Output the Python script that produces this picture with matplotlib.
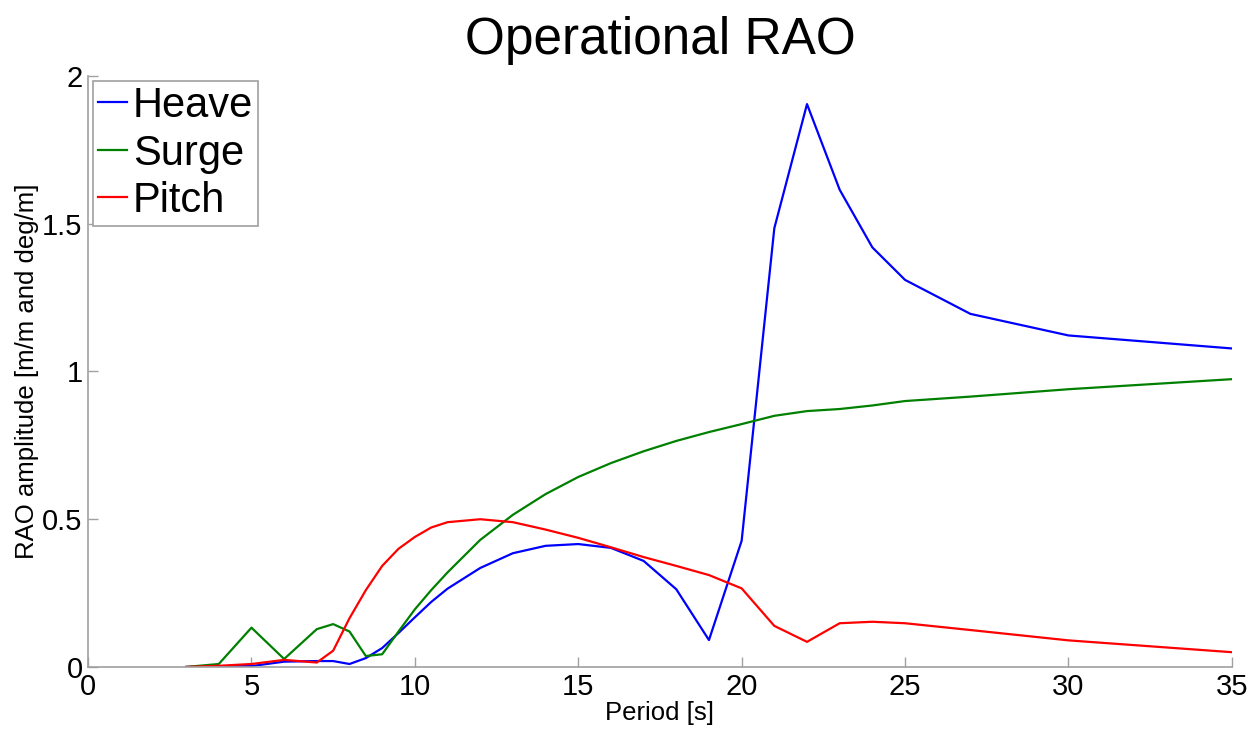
import matplotlib
matplotlib.use("Agg")
import matplotlib.pyplot as plt

plt.rcParams['font.family'] = ['Liberation Sans', 'DejaVu Sans']

period = [3, 4, 5, 6, 7, 7.5, 8, 8.5, 9, 9.5, 10, 10.5, 11, 12, 13, 14, 15, 16,
          17, 18, 19, 20, 21, 22, 23, 24, 25, 27, 30, 35]
heave = [0.0, 0.002, 0.003, 0.018, 0.02, 0.02, 0.01, 0.03, 0.064, 0.115, 0.168,
         0.22, 0.265, 0.335, 0.385, 0.41, 0.416, 0.403, 0.359, 0.263, 0.091,
         0.427, 1.485, 1.905, 1.615, 1.42, 1.31, 1.195, 1.122, 1.078]
surge = [0.0, 0.01, 0.133, 0.027, 0.128, 0.145, 0.12, 0.037, 0.043, 0.12, 0.195,
         0.26, 0.32, 0.43, 0.515, 0.585, 0.643, 0.69, 0.73, 0.765, 0.795, 0.822,
         0.85, 0.866, 0.873, 0.885, 0.9, 0.915, 0.94, 0.974]
pitch = [0.0, 0.004, 0.01, 0.024, 0.015, 0.055, 0.165, 0.26, 0.342, 0.40, 0.44,
         0.472, 0.49, 0.50, 0.49, 0.465, 0.437, 0.405, 0.372, 0.342, 0.311, 0.266,
         0.139, 0.085, 0.148, 0.153, 0.148, 0.125, 0.09, 0.05]

x_ticks = [0, 5, 10, 15, 20, 25, 30, 35]
y_ticks = [0, 0.5, 1, 1.5, 2]
y_tick_labels = ["0", "0.5", "1", "1.5", "2"]

fig = plt.figure(figsize=(12.58, 7.31), dpi=100)
ax = fig.add_axes([0.0700, 0.0876, 0.9092, 0.8084])

ax.plot(period, heave, color='#0000ff', lw=1.6, label='Heave')
ax.plot(period, surge, color='#008000', lw=1.6, label='Surge')
ax.plot(period, pitch, color='#ff0000', lw=1.6, label='Pitch')

ax.set_xlim(0, 35)
ax.set_ylim(0, 2)
ax.set_xticks(x_ticks)
ax.set_xticklabels([str(t) for t in x_ticks])
ax.set_yticks(y_ticks)
ax.set_yticklabels(y_tick_labels)

for side in ('top', 'right'):
    ax.spines[side].set_visible(False)
for side in ('left', 'bottom'):
    ax.spines[side].set_color('#a0a0a0')
    ax.spines[side].set_linewidth(1.2)

ax.tick_params(direction='in', length=7, width=1, color='#a0a0a0',
               labelsize=21, labelcolor='black', pad=4)

ax.set_title('Operational RAO', fontsize=37, pad=16)
ax.set_xlabel('Period [s]', fontsize=18.5, labelpad=0)
ax.set_ylabel('RAO amplitude [m/m and deg/m]', fontsize=18.5, labelpad=2)

leg = ax.legend(loc='upper left', fontsize=30, handlelength=0.7,
                handletextpad=0.13, labelspacing=0.18, borderpad=0.12,
                borderaxespad=0.12, fancybox=False, framealpha=1)
leg.get_frame().set_edgecolor('#a0a0a0')
leg.get_frame().set_linewidth(1.2)

fig.savefig('out.png', dpi=100, facecolor='white')
